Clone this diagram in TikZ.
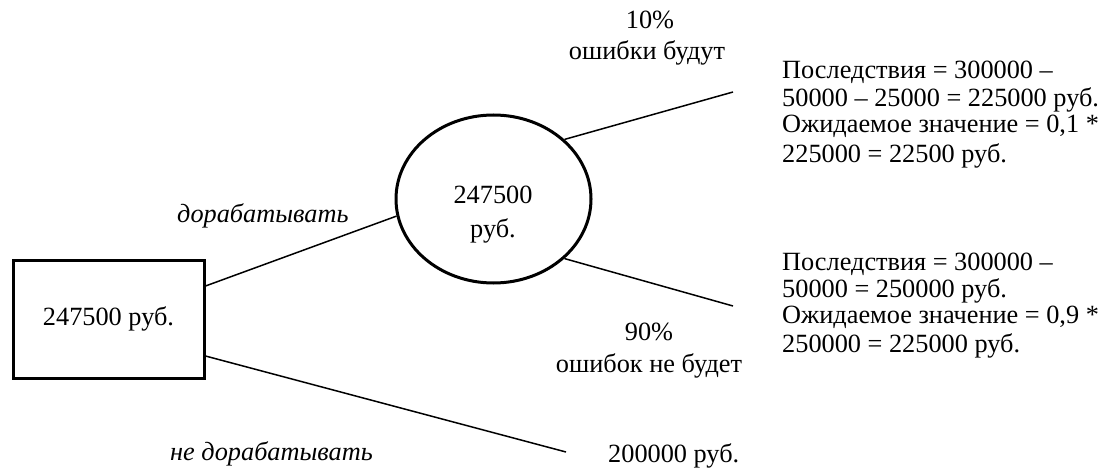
\documentclass[tikz,border=0pt]{standalone}
\usepackage{fontspec}
\setmainfont{Liberation Serif}
\usetikzlibrary{shapes.geometric}
\begin{document}
\begin{tikzpicture}[x=1pt,y=-1pt,
  txt/.style={inner sep=0pt, font=\fontsize{26.3}{28}\selectfont},
  itxt/.style={txt, font=\fontsize{26.3}{28}\selectfont\itshape},
  thick border/.style={draw, line width=3pt, inner sep=0pt},
  conn/.style={line width=1.5pt}]
\useasboundingbox (0,0) rectangle (1103,468);
% decision box
\node[thick border, minimum width=191pt, minimum height=118pt, font=\fontsize{26.3}{28}\selectfont] (box) at (108.5,319) {247500 руб.};
% chance node
\node[thick border, ellipse, minimum width=195pt, minimum height=168pt] (ell) at (493.5,199) {};
\node[txt, anchor=base] (e1) at (493,204) {247500};
\node[txt, anchor=base] (e2) at (493,237) {руб.};
% end points
\coordinate (up) at (733,92);
\coordinate (lo) at (733,306);
\coordinate (nd) at (566,452);
% connectors
\draw[conn] ([yshift=33pt]box.east) -- (ell.190);
\draw[conn] ([yshift=-37pt]box.east) -- (nd);
\draw[conn] (ell.40) -- (up);
\draw[conn] (ell.-40) -- (lo);
% branch labels
\node[itxt, anchor=base west] (l1) at (177,222) {дорабатывать};
\node[itxt, anchor=base west] (l2) at (170,460) {не дорабатывать};
\node[txt, anchor=base] (p1) at (650,29) {10\%};
\node[txt, anchor=base] (p1b) at (647,60) {ошибки будут};
\node[txt, anchor=base] (p2) at (649,340) {90\%};
\node[txt, anchor=base] (p2b) at (649,372) {ошибок не будет};
\node[txt, anchor=base west] (v0) at (608,462) {200000 руб.};
% outcomes
\node[txt, anchor=base west] (a1) at (782,79) {Последствия = 300000 –};
\node[txt, anchor=base west] (a2) at (782,107) {50000 – 25000 = 225000 руб.};
\node[txt, anchor=base west] (a3) at (782,133) {Ожидаемое значение = 0,1 *};
\node[txt, anchor=base west] (a4) at (782,162) {225000 = 22500 руб.};
\node[txt, anchor=base west] (b1) at (782,270) {Последствия = 300000 –};
\node[txt, anchor=base west] (b2) at (782,297) {50000 = 250000 руб.};
\node[txt, anchor=base west] (b3) at (782,323) {Ожидаемое значение = 0,9 *};
\node[txt, anchor=base west] (b4) at (782,352) {250000 = 225000 руб.};
\end{tikzpicture}
\end{document}
